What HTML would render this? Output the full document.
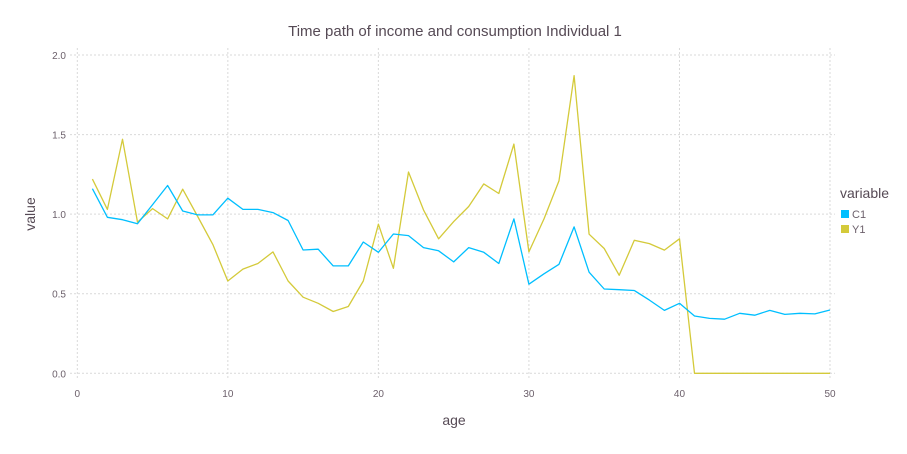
<!DOCTYPE html>
<html><head><meta charset="utf-8"><style>
body{margin:0;background:#fff}
svg{display:block;font-family:"Liberation Sans","DejaVu Sans",sans-serif}
</style></head><body>
<svg id="chart" width="907" height="454" viewBox="0 0 907 454">
<g id="grid"></g>
<g id="axes"></g>
<g id="series"></g>
<text x="455" y="36" text-anchor="middle" font-size="15" fill="#564a55">Time path of income and consumption Individual 1</text>
<text x="454" y="425" text-anchor="middle" font-size="14" fill="#564a55">age</text>
<text x="35" y="214" text-anchor="middle" font-size="14" fill="#564a55" transform="rotate(-90 35 214)">value</text>
<g>
<text x="840" y="198" font-size="14" fill="#564a55">variable</text>
<g><rect x="841" y="210" width="8" height="8" fill="#00bfff"/><text x="852" y="218" font-size="11" fill="#6c606b">C1</text></g>
<g><rect x="841" y="225" width="8" height="8" fill="#d4ca3a"/><text x="852" y="233" font-size="11" fill="#6c606b">Y1</text></g>
</g>
</svg>
<script>
const ages = Array.from({length:50},(_, i)=>i+1);
const c1Values = [1.16,0.98,0.965,0.94,1.06,1.18,1.02,0.995,0.995,1.10,1.03,1.03,1.01,0.96,0.775,0.78,0.675,0.675,0.825,0.76,0.875,0.865,0.79,0.77,0.70,0.79,0.76,0.69,0.97,0.56,0.625,0.685,0.92,0.635,0.53,0.525,0.52,0.46,0.395,0.44,0.36,0.345,0.34,0.377,0.365,0.395,0.37,0.377,0.373,0.398];
const y1Values = [1.22,1.03,1.47,0.95,1.035,0.97,1.157,0.985,0.81,0.58,0.655,0.69,0.763,0.58,0.478,0.44,0.388,0.42,0.58,0.937,0.66,1.265,1.027,0.845,0.953,1.048,1.19,1.13,1.44,0.763,0.97,1.21,1.87,0.874,0.784,0.616,0.836,0.815,0.774,0.845,0,0,0,0,0,0,0,0,0,0];
const xTicks = [0,10,20,30,40,50];
const yTicks = [0,0.5,1.0,1.5,2.0];
const yTickLabels = ["0.0","0.5","1.0","1.5","2.0"];

const NS="http://www.w3.org/2000/svg";
const X0=77.3,X1=830,Y0=373.3,Y1p=55;
const xs=v=>X0+(v-0)/50*(X1-X0);
const ys=v=>Y0-(v-0)/2*(Y0-Y1p);
function mk(tag,attrs,parent){const e=document.createElementNS(NS,tag);for(const k in attrs)e.setAttribute(k,attrs[k]);parent.appendChild(e);return e;}
const grid=document.getElementById('grid'),axes=document.getElementById('axes'),series=document.getElementById('series');
xTicks.forEach(t=>{
  const l=mk('line',{x1:xs(t),x2:xs(t),y1:48,y2:380,stroke:'#d9d9d9','stroke-dasharray':'2,2','stroke-width':1},grid);
  
  
  const tx=mk('text',{x:xs(t),y:397,'text-anchor':'middle','font-size':10,fill:'#6c606b'},axes);
  tx.textContent=t;
  
  
});
yTicks.forEach((t,i)=>{
  const l=mk('line',{x1:70,x2:835,y1:ys(t),y2:ys(t),stroke:'#d9d9d9','stroke-dasharray':'2,2','stroke-width':1},grid);
  
  
  const tx=mk('text',{x:66,y:ys(t)+4,'text-anchor':'end','font-size':10,fill:'#6c606b'},axes);
  tx.textContent=yTickLabels[i];
  
  
});
function line(vals,color,name){
  const d=vals.map((v,i)=>(i?'L':'M')+xs(ages[i]).toFixed(1)+','+ys(v).toFixed(1)).join('');
  const p=mk('path',{d:d,fill:'none',stroke:color,'stroke-width':1.3,'stroke-linejoin':'round'},series);
  
  
}
line(y1Values,'#d4ca3a','line-y1');
line(c1Values,'#00bfff','line-c1');
</script>
</body></html>
